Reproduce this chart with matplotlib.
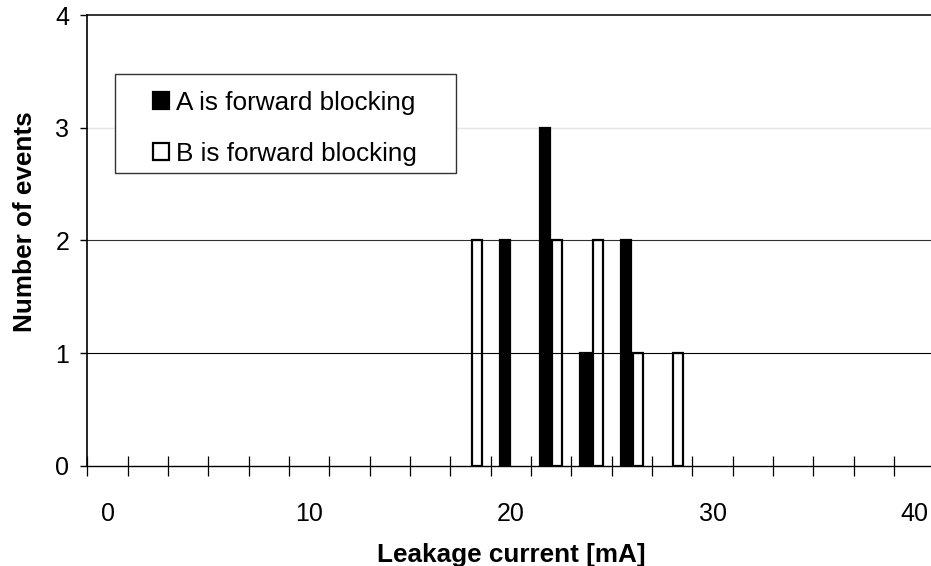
import matplotlib
matplotlib.use('Agg')
import matplotlib.pyplot as plt
from matplotlib.patches import Rectangle, Patch
import numpy as np

plt.rcParams['font.family'] = ['Liberation Sans', 'DejaVu Sans']

# leakage current classes [mA]
categories = [0, 2, 4, 6, 8, 10, 12, 14, 16, 18, 20,
              22, 24, 26, 28, 30, 32, 34, 36, 38, 40]
# number of events per class
a_forward = [0, 0, 0, 0, 0, 0, 0, 0, 0, 0, 2,
             3, 1, 2, 0, 0, 0, 0, 0, 0, 0]
b_forward = [0, 0, 0, 0, 0, 0, 0, 0, 0, 2, 0,
             2, 2, 1, 1, 0, 0, 0, 0, 0, 0]
series_names = ['A is forward blocking', 'B is forward blocking']
x_ticks = [0, 10, 20, 30, 40]
y_ticks = [0, 1, 2, 3, 4]

W, H = 931, 566
fig = plt.figure(figsize=(W / 100, H / 100), dpi=100)
ax = fig.add_axes([87.4 / W, 1 - 465.7 / H, 847 / W, 450.5 / H])

# gridlines, each with its own shade like the original
ax.axhline(1, color='black', lw=0.8, zorder=1)
ax.axhline(2, color='#303030', lw=0.8, zorder=1)
ax.axhline(3, color='#e4e4e4', lw=1.0, zorder=1)
ax.axhline(4, color='#222222', lw=1.3, zorder=1, clip_on=False)

x = np.array(categories, dtype=float)
bars_a = ax.bar(x - 0.3, a_forward, width=0.5, color='black', edgecolor='black',
                linewidth=1.6, zorder=2)
bars_b = ax.bar(x + 0.3, b_forward, width=0.5, facecolor='none', edgecolor='black',
                linewidth=1.6, zorder=2)
# empty classes get no outline
for bars in (bars_a, bars_b):
    for p in bars.patches:
        if p.get_height() == 0:
            p.set_linewidth(0)

ax.set_xlim(-1, 41)
ax.set_ylim(0, 4)

for s in ['top', 'right']:
    ax.spines[s].set_visible(False)
ax.spines['left'].set_linewidth(1.2)
ax.spines['bottom'].set_linewidth(1.0)
ax.spines['bottom'].set_zorder(3)

ax.set_xticks(x_ticks)
ax.set_xticks(np.arange(-1, 42, 2), minor=True)
ax.tick_params(axis='x', which='major', length=0, pad=26, labelsize=18)
ax.tick_params(axis='x', which='minor', direction='inout', length=15, width=0.9)
ax.set_yticks(y_ticks)
ax.tick_params(axis='y', which='major', direction='out', length=5, width=1.0,
               pad=8, labelsize=18)

fig.text(511.4 / W, 1 - 561.7 / H, 'Leakage current [mA]', fontsize=18.8,
         fontweight='bold', ha='center', va='baseline')
fig.text(31.7 / W, 1 - 221.7 / H, 'Number of events', fontsize=18.8,
         fontweight='bold', rotation=90, rotation_mode='anchor',
         ha='center', va='baseline')

# legend box drawn by hand, legend itself without frame
box = Rectangle((114.6 / W, 1 - 172.7 / H), (455.7 - 114.6) / W, (172.7 - 74) / H,
                transform=fig.transFigure, facecolor='white', edgecolor='#333333',
                lw=1.0, zorder=4)
fig.patches.append(box)
handles = [Patch(facecolor='black', edgecolor='black', lw=1.6),
           Patch(facecolor='white', edgecolor='black', lw=1.6)]
leg = fig.legend(handles, series_names, loc='upper left',
                 bbox_to_anchor=(153.3 / W, 1 - 91 / H),
                 frameon=False, fontsize=18.8, borderpad=0, borderaxespad=0,
                 handlelength=0.62, handleheight=0.62, handletextpad=0.25,
                 labelspacing=1.03)

fig.savefig('out.png', dpi=100)
